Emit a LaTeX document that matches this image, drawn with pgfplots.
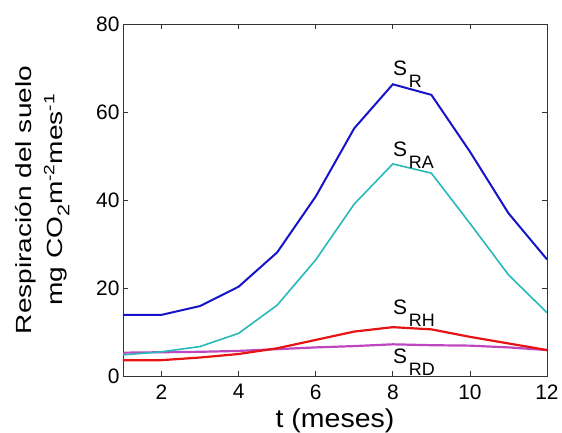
\documentclass[border=0pt]{standalone}
\usepackage{fontspec}
\setmainfont{Liberation Sans}
\usepackage{graphicx}
\usepackage{pgfplots}
\pgfplotsset{compat=1.18}

\definecolor{cR}{RGB}{20,20,200}
\definecolor{cRA}{RGB}{40,185,185}
\definecolor{cRH}{RGB}{232,20,20}
\definecolor{cRD}{RGB}{190,70,190}

% curve label: S with a large lowered subscript
\newcommand{\lab}[2]{\fontsize{21}{21}\selectfont #1\hspace{2bp}\raisebox{-12bp}{\fontsize{18}{18}\selectfont #2}}
\newcommand{\hs}[1]{\scalebox{1.28}[1]{#1}}
\newcommand{\lsub}[1]{\raisebox{-7bp}{\fontsize{17}{17}\selectfont #1}}
\newcommand{\lsup}[1]{\raisebox{8bp}{\fontsize{15}{15}\selectfont #1}}

\begin{document}
\begin{tikzpicture}
\begin{axis}[
  scale only axis,
  width=424bp, height=352bp,
  xmin=1, xmax=12, ymin=0, ymax=80,
  xtick={2,4,...,12}, ytick={0,20,...,80},
  tick align=inside,
  major tick length=5bp,
  axis line style={black!80, line width=0.7bp},
  tick style={black!80, line width=0.7bp},
  /pgf/number format/assume math mode=true,
  tick label style={font=\fontsize{21}{21}\selectfont},
  xticklabel style={yshift=-5bp},
  every axis x label/.style={at={(axis description cs:0.5,-0.145)}, anchor=base,
    font=\fontsize{26}{26}\selectfont},
  every axis y label/.style={at={(axis description cs:-0.118,0.5)}, anchor=south,
    rotate=90, align=center, font=\fontsize{22}{31}\selectfont},
  xlabel={\scalebox{1.1}[1]{t (meses)}},
  ylabel={\hs{Respiración del suelo}\\\hs{mg CO\lsub{2}m\lsup{-2}mes\lsup{-1}}},
  every axis plot/.append style={mark=none},
]
\addplot[cRD, line width=2.2bp] coordinates {(1,5.3) (2,5.4) (3,5.5) (4,5.7) (5,6.1) (6,6.5) (7,6.8) (8,7.2) (9,7.0) (10,6.9) (11,6.5) (12,5.9)};
\addplot[cRA, line width=1.6bp] coordinates {(1,4.8) (2,5.5) (3,6.7) (4,9.7) (5,16.1) (6,26.4) (7,39.1) (8,48.2) (9,46.1) (10,34.7) (11,23.0) (12,14.4)};
\addplot[cR, line width=2bp] coordinates {(1,13.9) (2,13.9) (3,15.9) (4,20.3) (5,28.1) (6,40.8) (7,56.3) (8,66.3) (9,63.9) (10,51.0) (11,37.0) (12,26.5)};
\addplot[cRH, line width=2.2bp] coordinates {(1,3.6) (2,3.6) (3,4.2) (4,5.0) (5,6.3) (6,8.2) (7,10.1) (8,11.1) (9,10.6) (10,8.9) (11,7.4) (12,5.9)};
\node[anchor=base west, inner sep=0pt] at (axis cs:8,68.4) {\lab{S}{R}};
\node[anchor=base west, inner sep=0pt] at (axis cs:8,49.8) {\lab{S}{RA}};
\node[anchor=base west, inner sep=0pt] at (axis cs:8,13.9) {\lab{S}{RH}};
\node[anchor=base west, inner sep=0pt] at (axis cs:8,2.9) {\lab{S}{RD}};
\end{axis}
\pgfresetboundingbox
\path (current axis.south west) ++(-123bp,-57bp) rectangle ++(562bp,433bp);
\end{tikzpicture}
\end{document}
